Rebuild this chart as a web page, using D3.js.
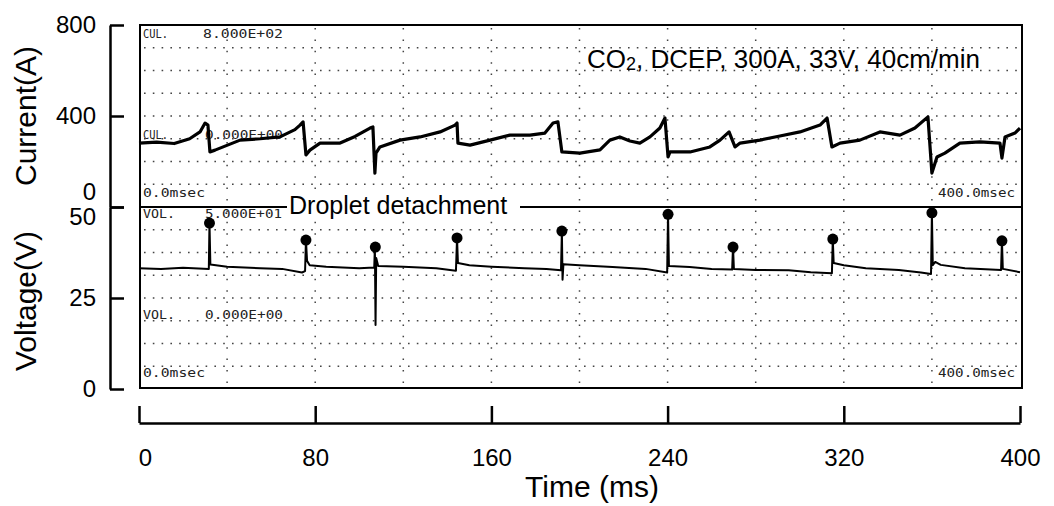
<!DOCTYPE html>
<html>
<head>
<meta charset="utf-8">
<script src="https://cdn.jsdelivr.net/npm/d3@7"></script>
<style>
  body { margin: 0; background: #fff; }
  svg { display: block; }
</style>
</head>
<body>
<script>
var width = 1054
var height = 506

// tick labels
var timeTicks = [0, 80, 160, 240, 320, 400]
var currentTicks = [0, 400, 800]
var voltageTicks = [0, 25, 50]

// current trace, [time ms, current A]
var currentTrace = [
    [0, 281], [8, 285], [16, 279], [23, 300], [27.7, 330], [30, 369], [31.3, 360], [32.2, 242],
    [34.5, 250], [45.9, 294], [55, 300], [64, 308], [70.8, 340], [73.1, 360], [74.5, 374], [75.8, 229],
    [77.6, 250], [82.2, 281], [91.3, 281], [98.1, 310], [104.9, 347], [106.2, 352], [107.1, 149], [107.6, 237],
    [109.4, 264], [118.5, 294], [127.6, 308], [136.7, 330], [143.5, 360], [144.4, 369], [144.8, 281], [150.3, 272],
    [159.4, 294], [168.4, 316], [177.5, 316], [184.3, 325], [188, 369], [190.2, 374], [192, 242], [200.2, 237],
    [209.3, 251], [213.8, 294], [218.3, 308], [222.9, 290], [227.4, 281], [232, 308], [236.5, 347], [238.8, 391],
    [240.2, 220], [241.1, 242], [250.2, 242], [259.2, 264], [263.8, 294], [267.9, 330], [270.6, 264], [272.9, 281],
    [281.9, 294], [291, 312], [300.1, 330], [309.2, 360], [312.4, 391], [314.6, 264], [318.3, 281], [327.3, 294],
    [336.4, 330], [345.5, 316], [352.3, 347], [358.2, 396], [360, 149], [362.3, 220], [365.9, 237], [372.7, 281],
    [381.8, 286], [390.9, 281], [391.8, 215], [393.2, 308], [397.7, 325], [400, 347]
]

// voltage trace, [time ms, voltage V]
var voltageTrace = [
    [0, 33.2], [10, 33.0], [20, 33.3], [31.7, 33.0], [32, 45.6], [32.4, 34.2], [40, 33.6], [55, 33.2],
    [65, 33.0], [74, 32.0], [75.4, 32.4], [75.8, 40.9], [76.3, 35.2], [77.5, 34.0], [85, 33.6], [100, 33.2],
    [106.8, 33.4], [107.1, 39.0], [107.4, 17.6], [107.7, 36.0], [108.6, 33.8], [120, 33.6], [135, 33.2], [143.9, 32.5],
    [144.4, 41.5], [144.8, 34.6], [150, 34.0], [160, 33.6], [175, 33.2], [185, 33.0], [191.6, 32.6], [192, 43.4],
    [192.3, 30.0], [192.7, 34.3], [200, 34.0], [215, 33.5], [230, 33.0], [239.8, 32.0], [240.2, 48.0], [240.6, 33.8],
    [250, 33.5], [260, 33.0], [269.3, 32.8], [269.7, 39.0], [270.1, 33.0], [280, 32.7], [295, 32.6], [305, 32.1],
    [314.6, 31.8], [315, 41.2], [315.4, 34.6], [320, 34.0], [330, 33.2], [345, 32.7], [355, 32.0], [359.6, 31.6],
    [360, 48.4], [360.4, 34.0], [361.5, 34.9], [364, 34.1], [375, 33.2], [391.4, 32.7], [391.8, 40.7], [392.2, 33.0],
    [400, 32.1]
]

// droplet detachment events
var detachTime = [32, 75.8, 107.3, 144.4, 192, 240.2, 269.7, 315, 360, 391.8]
var detachVolt = [45.6, 40.9, 39.0, 41.5, 43.4, 48.0, 39.0, 41.2, 48.4, 40.7]

var font = '"Liberation Sans", Arial, sans-serif'
var monoFont = '"DejaVu Sans Mono", monospace'

var x = d3.scaleLinear().domain([0, 400]).range([139, 1020])
var yI = d3.scaleLinear().domain([0, 800]).range([207, 25])
var yV = d3.scaleLinear().domain([0, 50]).range([389, 207])

var frameLeft = 140
var frameRight = 1022
var frameTop = 25
var frameMid = 207
var frameBottom = 388

var svg = d3.select('body').append('svg')
    .attr('width', width)
    .attr('height', height)
    .attr('viewBox', [0, 0, width, height])

svg.append('rect').attr('width', width).attr('height', height).attr('fill', '#fff')

// dotted scope grid
var grid = svg.append('g')
    .attr('stroke', '#444')
    .attr('stroke-width', 1.5)
    .attr('fill', 'none')

grid.selectAll('line.v')
    .data(d3.range(40, 400, 40))
    .enter()
    .append('line')
    .attr('class', 'v')
    .attr('x1', function (d) { return x(d) })
    .attr('x2', function (d) { return x(d) })
    .attr('y1', frameTop + 3)
    .attr('y2', frameBottom - 3)
    .attr('stroke-dasharray', '1.5 9.9')

var rows = d3.range(100, 800, 100).map(function (d) { return yI(d) })
    .concat(d3.range(6.25, 50, 6.25).map(function (d) { return yV(d) }))

grid.selectAll('line.h')
    .data(rows)
    .enter()
    .append('line')
    .attr('class', 'h')
    .attr('x1', frameLeft + 4)
    .attr('x2', frameRight - 4)
    .attr('y1', function (d) { return d })
    .attr('y2', function (d) { return d })
    .attr('stroke-dasharray', '1.6 7.2')

// scope screen annotations
var scopeLabels = [
    { text: 'CUL.', x: 143, y: 38, len: 25 },
    { text: '8.000E+02', x: 203, y: 38, len: 80 },
    { text: 'CUL.', x: 143, y: 139, len: 25 },
    { text: '0.000E+00', x: 205, y: 139, len: 78 },
    { text: '0.0msec', x: 143, y: 197, len: 62 },
    { text: '400.0msec', x: 938, y: 197, len: 77 },
    { text: 'VOL.', x: 143, y: 218, len: 32 },
    { text: '5.000E+01', x: 205, y: 218, len: 77 },
    { text: 'VOL.', x: 143, y: 319, len: 32 },
    { text: '0.000E+00', x: 205, y: 319, len: 78 },
    { text: '0.0msec', x: 143, y: 377, len: 62 },
    { text: '400.0msec', x: 938, y: 377, len: 77 }
]

svg.append('g')
    .selectAll('text')
    .data(scopeLabels)
    .enter()
    .append('text')
    .attr('x', function (d) { return d.x })
    .attr('y', function (d) { return d.y })
    .attr('textLength', function (d) { return d.len })
    .attr('lengthAdjust', 'spacingAndGlyphs')
    .attr('font-family', monoFont)
    .attr('font-size', 12)
    .attr('fill', '#222')
    .text(function (d) { return d.text })

// frame
svg.append('rect')
    .attr('x', frameLeft)
    .attr('y', frameTop)
    .attr('width', frameRight - frameLeft)
    .attr('height', frameBottom - frameTop)
    .attr('fill', 'none')
    .attr('stroke', '#000')
    .attr('stroke-width', 2)

svg.append('line')
    .attr('x1', frameLeft)
    .attr('x2', frameRight)
    .attr('y1', frameMid)
    .attr('y2', frameMid)
    .attr('stroke', '#000')
    .attr('stroke-width', 2)

// traces
var currentLine = d3.line()
    .x(function (d) { return x(d[0]) })
    .y(function (d) { return yI(d[1]) })

var voltageLine = d3.line()
    .x(function (d) { return x(d[0]) })
    .y(function (d) { return yV(d[1]) })

svg.append('path')
    .datum(currentTrace)
    .attr('d', currentLine)
    .attr('fill', 'none')
    .attr('stroke', '#000')
    .attr('stroke-width', 3.2)
    .attr('stroke-linejoin', 'round')

svg.append('path')
    .datum(voltageTrace)
    .attr('d', voltageLine)
    .attr('fill', 'none')
    .attr('stroke', '#000')
    .attr('stroke-width', 2)
    .attr('stroke-linejoin', 'round')

svg.append('g')
    .selectAll('circle')
    .data(detachTime)
    .enter()
    .append('circle')
    .attr('cx', function (d) { return x(d) })
    .attr('cy', function (d, i) { return yV(detachVolt[i]) })
    .attr('r', 5.5)
    .attr('fill', '#000')

// annotation on the separator line
svg.append('rect')
    .attr('x', 287)
    .attr('y', 196)
    .attr('width', 233)
    .attr('height', 21)
    .attr('fill', '#fff')

svg.append('text')
    .attr('x', 289)
    .attr('y', 214)
    .attr('font-family', font)
    .attr('font-size', 25)
    .attr('fill', '#000')
    .text('Droplet detachment')

var title = svg.append('text')
    .attr('x', 587)
    .attr('y', 68)
    .attr('font-family', font)
    .attr('font-size', 26)
    .attr('fill', '#000')
title.append('tspan').text('CO')
title.append('tspan').attr('font-size', 18).attr('dy', 2).text('2')
title.append('tspan').attr('dy', -2).text(', DCEP, 300A, 33V, 40cm/min')

// axes
var axisLeft = svg.append('g').attr('transform', 'translate(110,0)')

axisLeft.append('g')
    .call(d3.axisLeft(yI).tickValues(currentTicks).tickSizeInner(-14).tickSizeOuter(0).tickPadding(14))
    .attr('class', 'ax-current')

axisLeft.append('g')
    .call(d3.axisLeft(yV).tickValues(voltageTicks).tickSizeInner(-14).tickSizeOuter(0).tickPadding(14))
    .attr('class', 'ax-voltage')

// the 0 A and 50 V labels share one tick, push them apart
axisLeft.select('.ax-current').selectAll('.tick text')
    .attr('dy', function (d) { return d === 0 ? '-0.3em' : '0.32em' })
axisLeft.select('.ax-voltage').selectAll('.tick text')
    .attr('dy', function (d) { return d === 50 ? '0.74em' : '0.32em' })

var axisBottom = svg.append('g')
    .attr('transform', 'translate(0,423)')
    .call(d3.axisBottom(x).tickValues(timeTicks).tickSizeInner(-17).tickSizeOuter(0).tickPadding(26))

axisBottom.selectAll('.tick text')
    .attr('dx', function (d) { return d === 0 ? 6 : 0 })

svg.selectAll('.domain, .tick line')
    .attr('stroke', '#000')
    .attr('stroke-width', 2.5)

svg.selectAll('.tick text')
    .attr('font-family', font)
    .attr('font-size', 24)
    .attr('fill', '#000')

svg.append('text')
    .attr('transform', 'translate(36,116) rotate(-90)')
    .attr('text-anchor', 'middle')
    .attr('font-family', font)
    .attr('font-size', 30)
    .attr('fill', '#000')
    .text('Current(A)')

svg.append('text')
    .attr('transform', 'translate(36,301) rotate(-90)')
    .attr('text-anchor', 'middle')
    .attr('font-family', font)
    .attr('font-size', 30)
    .attr('fill', '#000')
    .text('Voltage(V)')

svg.append('text')
    .attr('x', 592)
    .attr('y', 497)
    .attr('text-anchor', 'middle')
    .attr('font-family', font)
    .attr('font-size', 30)
    .attr('fill', '#000')
    .text('Time (ms)')
</script>
</body>
</html>
